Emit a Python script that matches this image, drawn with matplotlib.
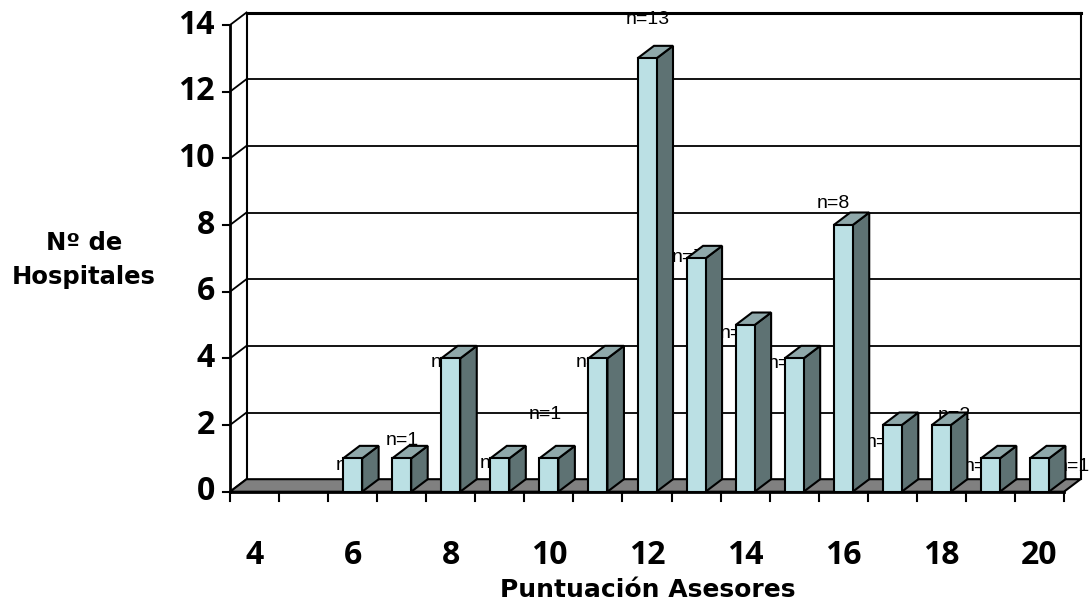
import matplotlib
matplotlib.use("Agg")
import matplotlib.pyplot as plt
from matplotlib.patches import Polygon

# ---- data ----
categories = [4, 5, 6, 7, 8, 9, 10, 11, 12, 13, 14, 15, 16, 17, 18, 19, 20]
values = [0, 0, 1, 1, 4, 1, 1, 4, 13, 7, 5, 4, 8, 2, 2, 1, 1]
y_ticks = [0, 2, 4, 6, 8, 10, 12, 14]
x_tick_labels = [4, 6, 8, 10, 12, 14, 16, 18, 20]
y_title = "Nº de\nHospitales"
x_title = "Puntuación Asesores"

# label placement (offset from bar centre in category units, and height in value units)
label_dx = [0, 0, -0.01, 0.01, -0.06, -0.08, -0.08, -0.12, 0.02, -0.16, -0.17, -0.19, -0.21, -0.21, 0.26, -0.21, 0.70]
label_y = [0, 0, 0.80, 1.55, 3.89, 0.86, 2.33, 3.89, 14.15, 7.04, 4.76, 3.86, 8.66, 1.49, 2.30, 0.77, 0.77]

# ---- style ----
W, H = 1090, 606
FRONT = "#BBE0E4"
SIDE = "#5E7273"
TOP = "#8FA8AA"
FLOOR = "#808080"
x0_px, x1_px = 230, 1064
y0_px, y14_px = 491.7, 25
slot = (x1_px - x0_px) / len(categories)
unit = (y0_px - y14_px) / 14
DX = 16.5 / slot
DY = 12.5 / unit
HW = 9.5 / slot

fig = plt.figure(figsize=(W / 100, H / 100), dpi=100)
ax = fig.add_axes([x0_px / W, (H - y0_px) / H, (x1_px - x0_px) / W, (y0_px - y14_px) / H])
n = len(categories)
ax.set_xlim(-0.5, n - 0.5)
ax.set_ylim(0, 14)
ax.axis("off")

xl, xr = -0.5, n - 0.5
ymax = y_ticks[-1]

# back wall grid lines
for v in y_ticks[1:]:
    lw = 2.2 if v == ymax else 1.3
    ax.plot([xl + DX, xr + DX], [v + DY, v + DY], color="black", lw=lw, clip_on=False, zorder=1)
# left side wall diagonals
for v in y_ticks:
    ax.plot([xl, xl + DX], [v, v + DY], color="black", lw=1.3, clip_on=False, zorder=1)
    ax.plot([xl - 7 / slot, xl], [v, v], color="black", lw=1.5, clip_on=False, zorder=1)
# back wall vertical edges
ax.plot([xl + DX, xl + DX], [DY, ymax + DY], color="black", lw=1.5, clip_on=False, zorder=1)
ax.plot([xr + DX, xr + DX], [DY, ymax + DY], color="black", lw=1.5, clip_on=False, zorder=1)
# front axis line
ax.plot([xl, xl], [0, ymax], color="black", lw=2, clip_on=False, zorder=6)

# floor
floor = Polygon([(xl, 0), (xr, 0), (xr + DX, DY), (xl + DX, DY)], closed=True,
                facecolor=FLOOR, edgecolor="black", lw=1.5, clip_on=False, zorder=2)
ax.add_patch(floor)
ax.plot([xl, xr], [0, 0], color="black", lw=2, clip_on=False, zorder=6)

# x tick marks at slot boundaries
for k in range(n + 1):
    xb = -0.5 + k
    ax.plot([xb, xb], [0, -9.5 / unit], color="black", lw=1.5, clip_on=False, zorder=6)

# data labels (drawn behind bars)
for i, v in enumerate(values):
    if v > 0:
        ax.text(i + label_dx[i], label_y[i], f"n={v}", ha="center", va="center",
                fontsize=14, family=["Liberation Sans", "DejaVu Sans"], color="black",
                zorder=3, clip_on=False)

# bars
for i, v in enumerate(values):
    if v <= 0:
        continue
    l, r = i - HW, i + HW
    front = Polygon([(l, 0), (r, 0), (r, v), (l, v)], closed=True, facecolor=FRONT,
                    edgecolor="black", lw=1.5, clip_on=False, zorder=4 + i * 0.01)
    side = Polygon([(r, 0), (r + DX, DY), (r + DX, v + DY), (r, v)], closed=True,
                   facecolor=SIDE, edgecolor="black", lw=1.5, clip_on=False, zorder=4 + i * 0.01)
    top = Polygon([(l, v), (r, v), (r + DX, v + DY), (l + DX, v + DY)], closed=True,
                  facecolor=TOP, edgecolor="black", lw=1.5, clip_on=False, zorder=4 + i * 0.01)
    for p in (side, top, front):
        ax.add_patch(p)

# y tick labels
for v in y_ticks:
    ax.text(xl - 15 / slot, v, str(v), ha="right", va="center", fontsize=23,
            fontweight="bold", family="Open Sans", clip_on=False)

# x tick labels
for c in x_tick_labels:
    i = categories.index(c)
    ax.text(i, -(555 - y0_px) / unit, str(c), ha="center", va="center", fontsize=23,
            fontweight="bold", family="Open Sans", clip_on=False)

# axis titles
fig.text(84 / W, 1 - 260 / H, y_title, ha="center", va="center", fontsize=17.5,
         fontweight="bold", family="DejaVu Sans", linespacing=1.55)
fig.text(648 / W, 1 - 590 / H, x_title, ha="center", va="center", fontsize=18,
         fontweight="bold", family="DejaVu Sans")

fig.savefig("out.png", dpi=100)
